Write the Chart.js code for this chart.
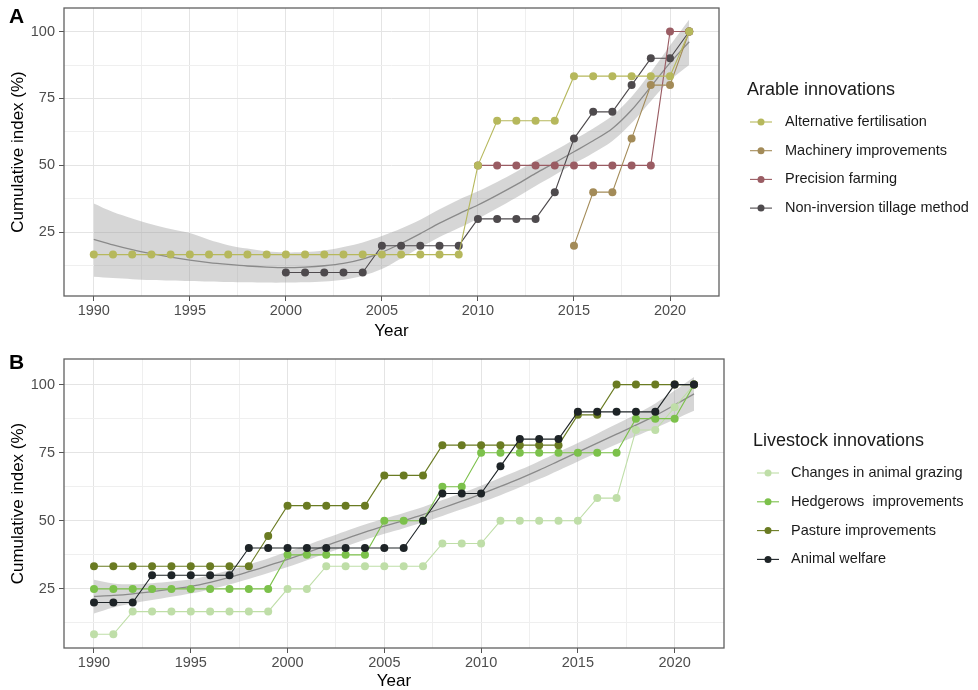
<!DOCTYPE html>
<html>
<head>
<meta charset="utf-8">
<script src="https://cdn.jsdelivr.net/npm/chart.js@4.4.1/dist/chart.umd.min.js"></script>
<style>
  html, body { margin: 0; padding: 0; background: #fff; }
  body { width: 978px; height: 690px; position: relative; overflow: hidden; }
  canvas { position: absolute; left: 0; }
  #chartA { top: -10px; }
  #chartB { top: 340px; }
</style>
</head>
<body>
<canvas id="chartA" width="978" height="352"></canvas>
<canvas id="chartB" width="978" height="352"></canvas>
<script>
'use strict';

const years = [1990, 1991, 1992, 1993, 1994, 1995, 1996, 1997, 1998, 1999,
    2000, 2001, 2002, 2003, 2004, 2005, 2006, 2007, 2008, 2009,
    2010, 2011, 2012, 2013, 2014, 2015, 2016, 2017, 2018, 2019,
    2020, 2021];

// ticks (major + minor grid)
const xTicks = [1990, 1992.5, 1995, 1997.5, 2000, 2002.5, 2005, 2007.5, 2010, 2012.5, 2015, 2017.5, 2020];
const yTicks = [12.5, 25, 37.5, 50, 62.5, 75, 87.5, 100];

// --- panel A: arable innovations ---
const arableNames = ['Alternative fertilisation', 'Machinery improvements', 'Precision farming', 'Non-inversion tillage method'];
const altFertilisation = [16.67, 16.67, 16.67, 16.67, 16.67, 16.67, 16.67, 16.67, 16.67, 16.67,
    16.67, 16.67, 16.67, 16.67, 16.67, 16.67, 16.67, 16.67, 16.67, 16.67,
    50, 66.67, 66.67, 66.67, 66.67, 83.33, 83.33, 83.33, 83.33, 83.33,
    83.33, 100];
const machinery = [null, null, null, null, null, null, null, null, null, null,
    null, null, null, null, null, null, null, null, null, null,
    null, null, null, null, null, 20, 40, 40, 60, 80,
    80, 100];
const precision = [null, null, null, null, null, null, null, null, null, null,
    null, null, null, null, null, null, null, null, null, null,
    50, 50, 50, 50, 50, 50, 50, 50, 50, 50,
    100, 100];
const tillage = [null, null, null, null, null, null, null, null, null, null,
    10, 10, 10, 10, 10, 20, 20, 20, 20, 20,
    30, 30, 30, 30, 40, 60, 70, 70, 80, 90,
    90, 100];
// smoothed trend and its confidence band
const arableFit = [22.4, 20.3, 18.5, 17, 15.7, 14.6, 13.7, 13, 12.4, 12,
    11.8, 12, 12.5, 13.4, 15, 17.5, 20.8, 24.5, 28.4, 31.9,
    35.2, 38.9, 42.8, 47, 51, 55.1, 59.2, 63.8, 70.7, 79.4,
    88.3, 96.2];
const arableLow = [8.4, 7.9, 7.5, 7.2, 7, 6.8, 6.6, 6.4, 6.3, 6.2,
    6.2, 6.3, 6.6, 7.3, 8.8, 11.3, 15.2, 19.3, 23.2, 26.6,
    30.1, 34, 38, 42.3, 46.4, 50.6, 54.6, 59.1, 65.8, 74,
    81.8, 87.5];
const arableHigh = [35.8, 32.6, 30.2, 28, 26.2, 24.7, 22.2, 20.2, 18.9, 17.9,
    17.5, 17.6, 18.2, 19.5, 21.2, 23.6, 26.4, 29.7, 33.6, 37.2,
    40.3, 43.8, 47.6, 51.7, 55.6, 59.6, 63.8, 68.5, 75.6, 84.8,
    94.8, 104.5];

// --- panel B: livestock innovations ---
const livestockNames = ['Changes in animal grazing', 'Hedgerows  improvements', 'Pasture improvements', 'Animal welfare'];
const grazing = [8.33, 8.33, 16.67, 16.67, 16.67, 16.67, 16.67, 16.67, 16.67, 16.67,
    25, 25, 33.33, 33.33, 33.33, 33.33, 33.33, 33.33, 41.67, 41.67,
    41.67, 50, 50, 50, 50, 50, 58.33, 58.33, 83.33, 83.33,
    91.67, 100];
const hedgerows = [25, 25, 25, 25, 25, 25, 25, 25, 25, 25,
    37.5, 37.5, 37.5, 37.5, 37.5, 50, 50, 50, 62.5, 62.5,
    75, 75, 75, 75, 75, 75, 75, 75, 87.5, 87.5,
    87.5, 100];
const pasture = [33.33, 33.33, 33.33, 33.33, 33.33, 33.33, 33.33, 33.33, 33.33, 44.44,
    55.56, 55.56, 55.56, 55.56, 55.56, 66.67, 66.67, 66.67, 77.78, 77.78,
    77.78, 77.78, 77.78, 77.78, 77.78, 88.89, 88.89, 100, 100, 100,
    100, 100];
const welfare = [20, 20, 20, 30, 30, 30, 30, 30, 40, 40,
    40, 40, 40, 40, 40, 40, 40, 50, 60, 60,
    60, 70, 80, 80, 80, 90, 90, 90, 90, 90,
    100, 100];
const livestockFit = [22.2, 22.6, 23.2, 24, 24.9, 25.9, 27.4, 29.2, 31.3, 33.5,
    35.8, 38.3, 40.9, 43.4, 45.8, 48, 50.1, 52.3, 54.7, 57.2,
    59.8, 62.6, 65.5, 68.6, 71.9, 75.2, 78.5, 81.8, 85.1, 88.6,
    92.5, 96.6];
const livestockLow = [16, 18.2, 19.7, 20.9, 22.1, 23.3, 24.8, 26.6, 28.6, 30.8,
    33, 35.5, 38.1, 40.6, 43, 45.2, 47.3, 49.5, 51.8, 54.2,
    56.7, 59.4, 62.3, 65.3, 68.5, 71.8, 75, 78.1, 81.1, 84.1,
    87.2, 90.4];
const livestockHigh = [28.4, 27, 26.7, 27.1, 27.7, 28.5, 30, 31.8, 34, 36.2,
    38.6, 41.1, 43.7, 46.2, 48.6, 50.8, 52.9, 55.1, 57.6, 60.2,
    62.9, 65.8, 68.7, 71.9, 75.3, 78.6, 82, 85.5, 89.1, 93.1,
    97.8, 102.8];

const arableColors = ['#b6b85c', '#a38b58', '#9a5c63', '#4e4a4d'];
const livestockColors = ['#bfdea8', '#7cc14b', '#6a7b22', '#1e2427'];

const FONT = "'Liberation Sans', Arial, sans-serif";
Chart.defaults.font.family = FONT;

const tickGrey = '#4d4d4d';
const bandColor = 'rgba(153, 153, 153, 0.4)';

function toPoints(values) {
    let pts = [];
    values.forEach((v, i) => {
        if (v !== null) pts.push({ x: years[i], y: v });
    });
    return pts;
}

function seriesDataset(label, values, color, order) {
    return {
        label: label,
        data: toPoints(values),
        borderColor: color,
        backgroundColor: color,
        borderWidth: 1.1,
        pointRadius: 4,
        pointBorderWidth: 0,
        pointBackgroundColor: color,
        order: order,
    };
}

function smoothDatasets(fit, low, high) {
    return [
        { label: 'low', data: toPoints(low), borderColor: 'rgba(0,0,0,0)', borderWidth: 0,
          pointRadius: 0, fill: false, tension: 0.3, order: 101 },
        { label: 'high', data: toPoints(high), borderColor: 'rgba(0,0,0,0)', borderWidth: 0,
          pointRadius: 0, fill: '-1', backgroundColor: bandColor, tension: 0.3, order: 100 },
        { label: 'fit', data: toPoints(fit), borderColor: '#8a8a8a', borderWidth: 1.3,
          pointRadius: 0, fill: false, tension: 0.3, order: 90 },
    ];
}

function makeScales(yMin, yMax, xHeight) {
    return {
        x: {
            type: 'linear',
            min: 1988.45,
            max: 2022.55,
            afterBuildTicks: (scale) => { scale.ticks = xTicks.map((v) => ({ value: v })); },
            afterFit: (scale) => { scale.height = xHeight; },
            ticks: {
                autoSkip: false, maxRotation: 0, padding: 1, color: tickGrey,
                font: { size: 14.5 },
                callback: (v) => (v % 5 === 0 ? String(v) : ''),
            },
            grid: {
                color: (c) => (c.tick && c.tick.value % 5 === 0 ? '#e4e4e4' : '#efefef'),
                lineWidth: 1,
                tickLength: 5,
                tickColor: (c) => (c.tick && c.tick.value % 5 === 0 ? '#555' : 'rgba(0,0,0,0)'),
            },
            border: { display: false },
            title: { display: true, text: 'Year', color: '#000', font: { size: 17 }, padding: { top: 0, bottom: 0 } },
        },
        y: {
            min: yMin,
            max: yMax,
            afterBuildTicks: (scale) => { scale.ticks = yTicks.map((v) => ({ value: v })); },
            afterFit: (scale) => { scale.width = 64; },
            ticks: {
                padding: 4, color: tickGrey, font: { size: 14.5 },
                callback: (v) => (v % 25 === 0 ? String(v) : ''),
            },
            grid: {
                color: (c) => (c.tick && c.tick.value % 25 === 0 ? '#e4e4e4' : '#efefef'),
                lineWidth: 1,
                tickLength: 5,
                tickColor: (c) => (c.tick && c.tick.value % 25 === 0 ? '#555' : 'rgba(0,0,0,0)'),
            },
            border: { display: false },
            title: { display: true, text: 'Cumulative index (%)', color: '#000', font: { size: 17 }, padding: { top: 8, bottom: 0 } },
        },
    };
}

// panel border, panel letter and the ggplot-like legend
const decor = {
    id: 'decor',
    afterDraw(chart, args, o) {
        const ctx = chart.ctx;
        const a = chart.chartArea;
        ctx.save();
        ctx.strokeStyle = '#606060';
        ctx.lineWidth = 1.3;
        ctx.strokeRect(a.left, a.top, a.right - a.left, a.bottom - a.top);

        ctx.fillStyle = '#000';
        ctx.textAlign = 'left';
        ctx.textBaseline = 'middle';
        ctx.font = 'bold 21px ' + FONT;
        ctx.fillText(o.letter, 9, o.letterY);

        ctx.font = '18px ' + FONT;
        ctx.fillStyle = '#1a1a1a';
        ctx.fillText(o.title, o.x, o.titleY);

        ctx.font = '14.5px ' + FONT;
        o.names.forEach((name, i) => {
            let y = o.rowY + i * o.rowGap;
            ctx.strokeStyle = o.colors[i];
            ctx.lineWidth = 1.1;
            ctx.beginPath();
            ctx.moveTo(o.keyX, y);
            ctx.lineTo(o.keyX + 22, y);
            ctx.stroke();
            ctx.fillStyle = o.colors[i];
            ctx.beginPath();
            ctx.arc(o.keyX + 11, y, 3.5, 0, Math.PI * 2);
            ctx.fill();
            ctx.fillStyle = '#1a1a1a';
            ctx.fillText(name, o.textX, y);
        });
        ctx.restore();
    },
};

function buildChart(id, cfg) {
    let datasets = cfg.series.map((vals, i) =>
        seriesDataset(cfg.names[i], vals, cfg.colors[i], cfg.orders[i]));
    datasets = datasets.concat(smoothDatasets(cfg.fit, cfg.low, cfg.high));
    return new Chart(document.getElementById(id).getContext('2d'), {
        type: 'line',
        data: { datasets: datasets },
        options: {
            responsive: false,
            animation: false,
            events: [],
            layout: { padding: cfg.padding },
            scales: makeScales(cfg.yMin, cfg.yMax, cfg.xHeight),
            plugins: {
                legend: { display: false },
                tooltip: { enabled: false },
                decor: cfg.decor,
            },
        },
        plugins: [decor],
    });
}

// canvas A sits 10px above the page top, so its coordinates are shifted by +10
buildChart('chartA', {
    names: arableNames,
    colors: arableColors,
    series: [altFertilisation, machinery, precision, tillage],
    orders: [1, 2, 3, 4],
    fit: arableFit, low: arableLow, high: arableHigh,
    yMin: 1.2, yMax: 108.8,
    xHeight: 46,
    padding: { top: 18, right: 259, left: 0, bottom: 0 },
    decor: {
        letter: 'A', letterY: 27.5,
        title: 'Arable innovations', names: arableNames, colors: arableColors,
        x: 747, titleY: 100, rowY: 132, rowGap: 28.7, keyX: 750, textX: 785,
    },
});

buildChart('chartB', {
    names: livestockNames,
    colors: livestockColors,
    series: [grazing, hedgerows, pasture, welfare],
    orders: [4, 3, 2, 1],
    fit: livestockFit, low: livestockLow, high: livestockHigh,
    yMin: 3.3, yMax: 109.4,
    xHeight: 44,
    padding: { top: 19, right: 254, left: 0, bottom: 0 },
    decor: {
        letter: 'B', letterY: 23.5,
        title: 'Livestock innovations', names: livestockNames, colors: livestockColors,
        x: 753, titleY: 101, rowY: 133, rowGap: 28.8, keyX: 757, textX: 791,
    },
});
</script>
</body>
</html>
